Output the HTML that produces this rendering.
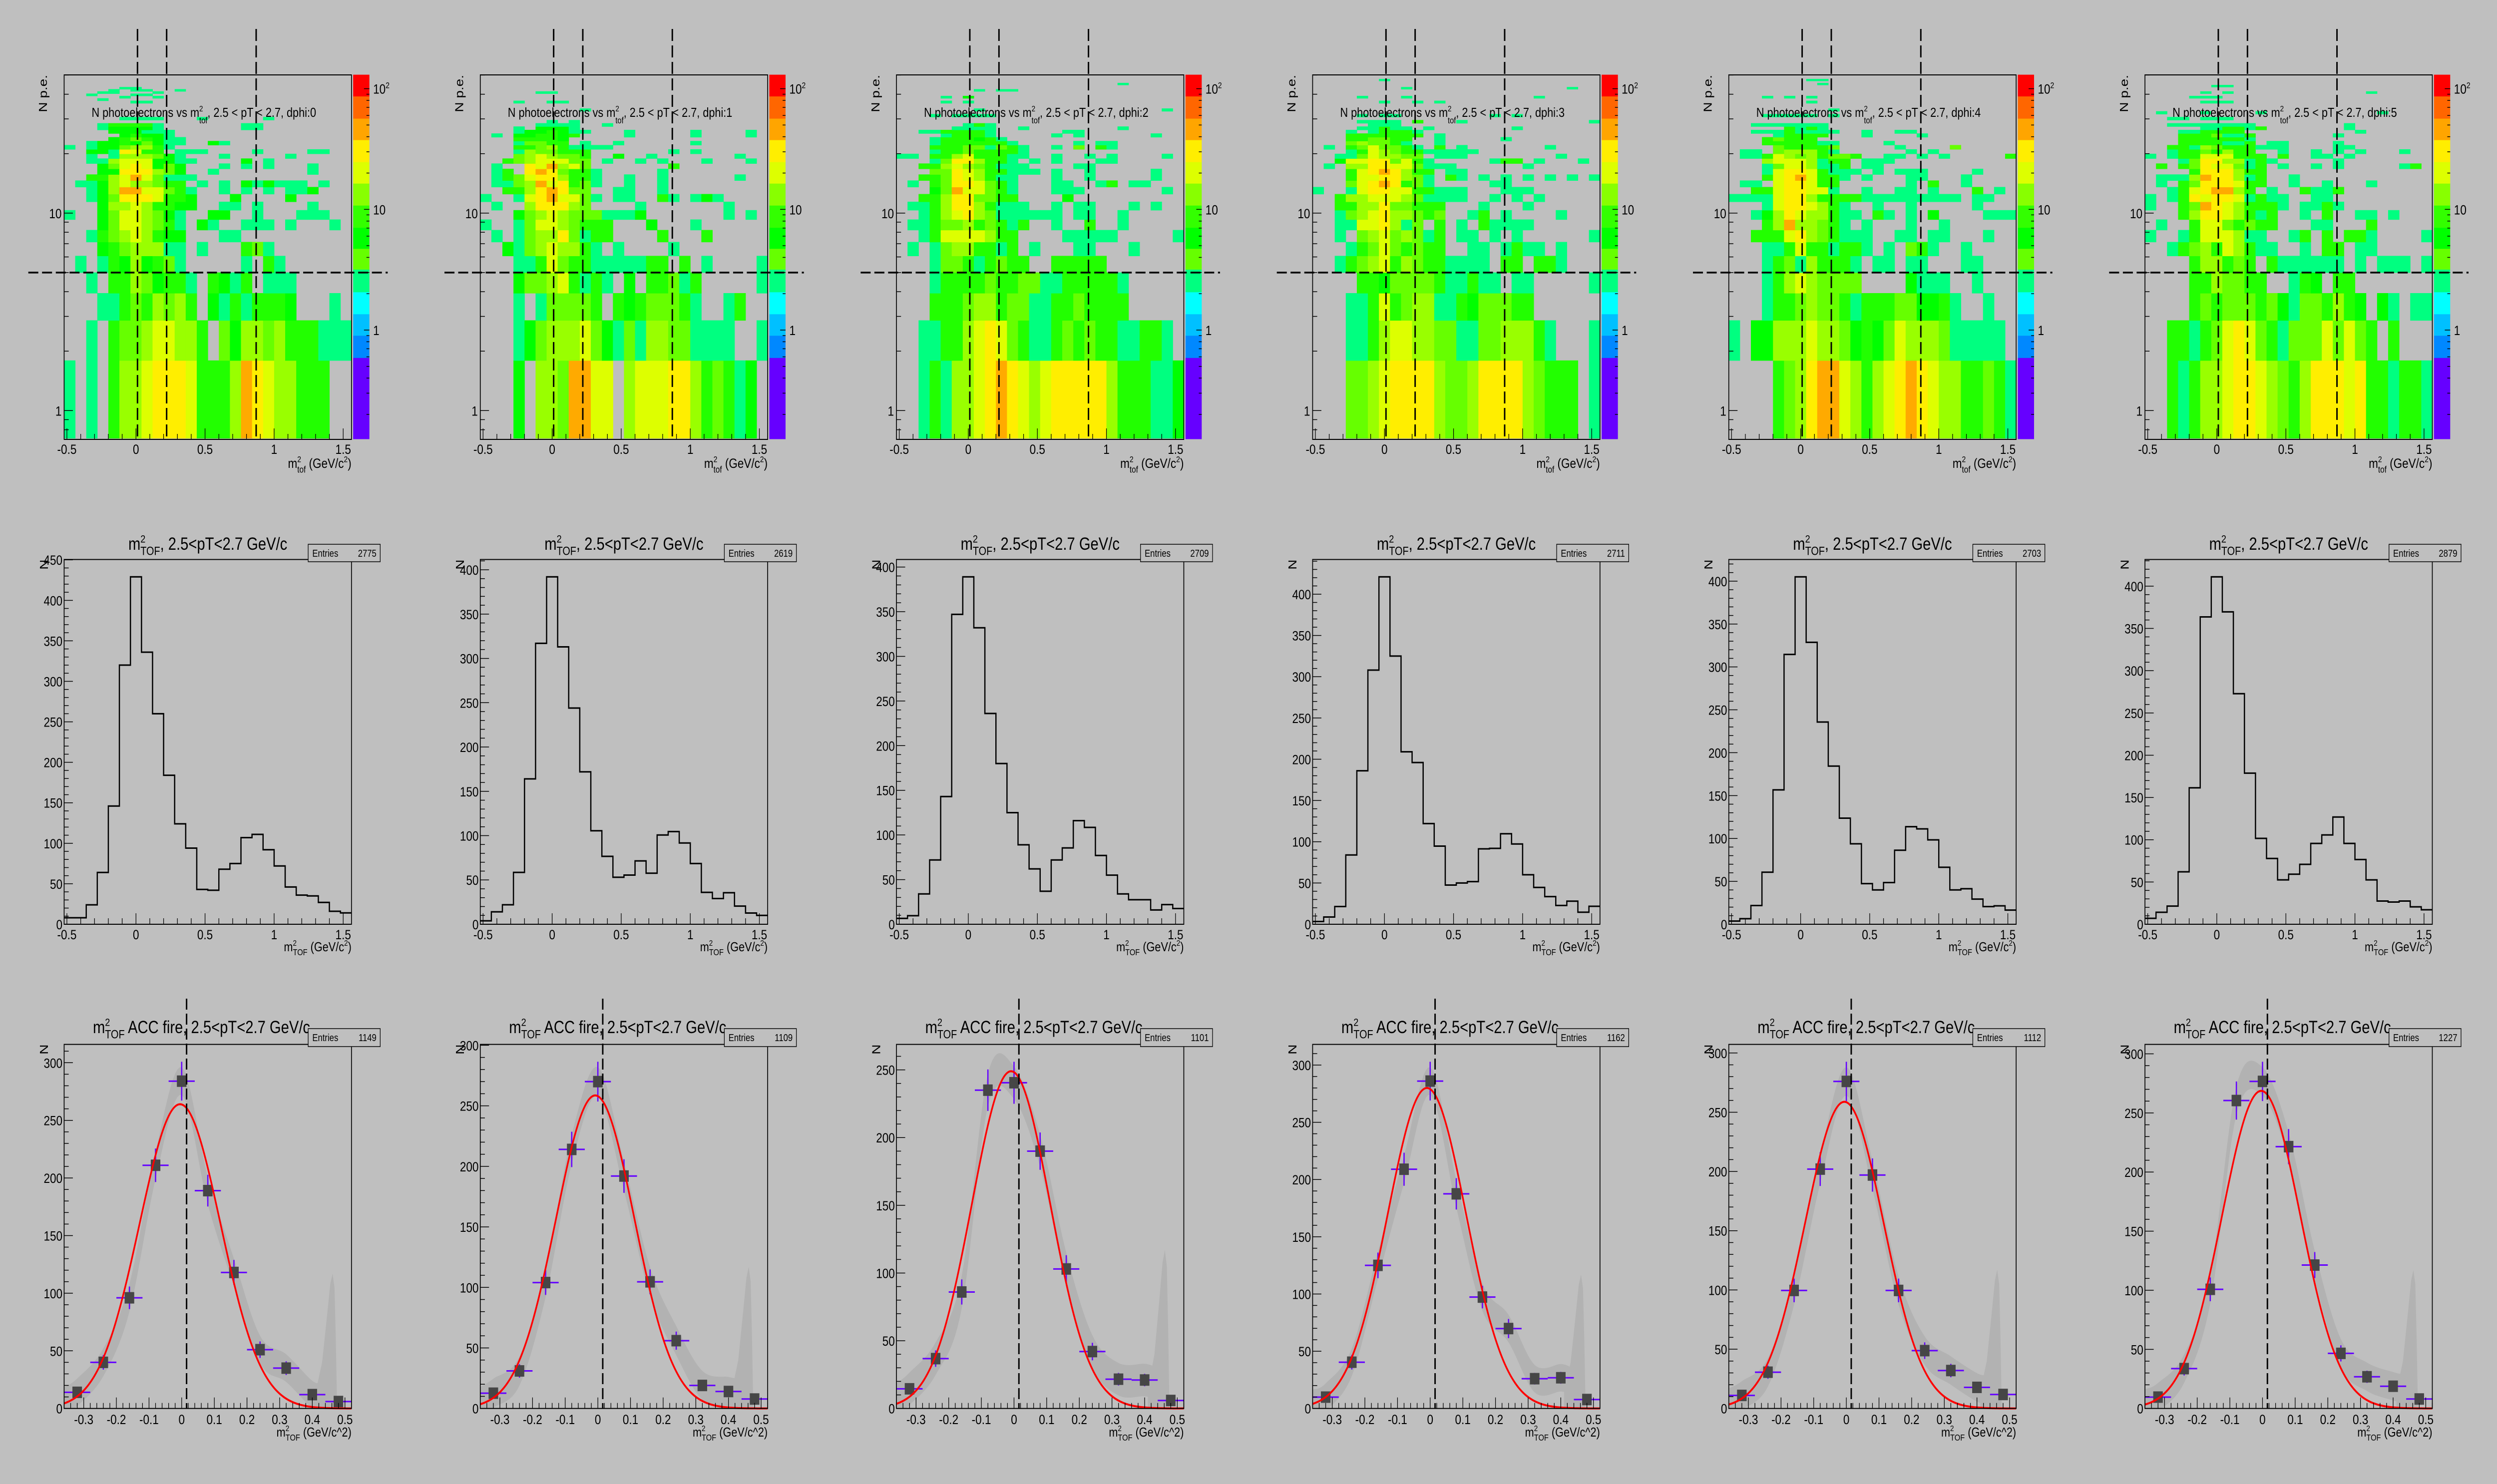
<!DOCTYPE html>
<html><head><meta charset="utf-8"><title>m2 TOF panels</title>
<meta name="viewport" content="width=5996">
<style>
html,body{margin:0;padding:0;background:#bfbfbf;width:100%;height:100%;overflow:hidden;}
svg{display:block;font-family:"Liberation Sans",Arial,sans-serif;width:100vw;height:100vh;overflow:hidden;}
</style></head>
<body>
<svg id="canvas" viewBox="0 0 5996 2972" preserveAspectRatio="none" xmlns="http://www.w3.org/2000/svg">
<rect x="0" y="0" width="5996" height="2972" fill="#bfbfbf"/>
</svg>
<script>
// ---------------- DATA ----------------
const dphiValues = [0,1,2,3,4,5];
const xBinStart = -0.52;
const xBinWidth = 0.08;
const yBinStart = 0.725;
const yBinWidth = 1.07;
const hmXTicks = [-0.5,0,0.5,1,1.5];
const hmXTickLabels = ['-0.5','0','0.5','1','1.5'];
const hmYTicks = [1,10];
const hmYTickLabels = ['1','10'];
const cutXValues = [0.011,0.222,0.87];
const cutYValue = 5.0;

const hm0 = [
"0|10103556777633358765533300","1|00103445665530425545333111","2|00011343545302131333200010",
"3|00103354233103213011100000","4|01013252341000001031000000","5|00023455511010003410000000",
"6|00134565322000110000000000","7|00024665431021001110100010","8|10024665421002200100011100",
"9|00025565332200110100001000","10|00124777633200020000200000","11|00125886643100101010112000",
"12|01125655433010102121110100","13|00335686411100000000000000",
"14|3:2 4:2 5:7 6:7 7:7 8:5 9:4 10:2 13:1 22:1","15|3:2 4:4 5:6 6:7 7:6 8:2 9:4 10:2 14:1 16:1 18:1 22:1",
"16|2:1 3:1 4:5 5:6 6:6 7:6 8:2 9:2 10:1 11:1 16:2 18:1","17|2:1 4:1 5:5 6:5 7:5 8:4 9:2 10:1 14:1 20:1",
"18|2:2 3:2 4:1 5:7 6:6 7:3 8:3 10:1 11:1 12:1 17:1 22:1 23:1","19|0:1 2:1 3:2 4:2 5:4 6:5 7:5 8:3 9:1",
"20|2:1 3:2 4:2 5:3 6:2 7:4 8:2 9:1 10:1 13:2 14:1","21|4:2 5:3 6:4 7:3 8:2 9:1 10:1",
"22|5:2 6:3 7:2 8:2 9:1","23|4:2 5:2 6:2 7:1 8:1 9:1","24|3:1 4:2 5:2 6:2 7:2 8:1 16:1 17:1",
"25|3:1 4:3 5:3 6:3 7:3 8:1 16:1 17:1","27|5:1 6:1 7:1 8:1 12:1 18:1",
"33|6:1 7:1","34|3:1","35|5:1 8:1","36|2:1 6:1 7:1","37|3:1 4:1 8:1","38|4:1 6:1 7:1 10:1","39|5:1 6:1"
];
const hm1 = [
"0|00020554886605666775343120","1|00012455564214155441111001","2|00010144443032344431001300",
"3|00024456313102033413000001","4|00011364331111133030100001","5|00214565531010000100000000",
"6|01014557413300003000300000","7|10014665433300020001000000","8|00024565444111200000001010",
"9|01005777540000100000001000","10|10016786641011003101210000","11|00335787440011001000000000",
"12|01145867341001001000000000","13|01346775331001001000000100",
"14|1:1 2:3 4:7 5:8 6:7 7:4 8:3 9:3 10:1 16:1","15|1:1 4:7 5:6 6:8 7:5 8:6 9:4 17:3",
"16|2:3 3:4 4:5 5:6 6:6 7:6 8:4 9:4 11:1 14:1 16:1 20:1 24:1","17|3:4 4:5 5:6 6:5 7:4 8:4 9:3 12:2 15:1 23:1",
"18|3:1 4:5 5:4 6:4 7:3 8:3 9:3 17:1 19:1","19|3:3 4:3 5:4 6:5 7:3 8:1 9:1 10:1 11:1",
"20|3:1 4:4 5:4 6:3 7:3 9:1 12:1 19:1","21|3:3 4:3 5:3 6:3 7:2",
"22|1:1 3:2 4:2 5:3 6:3 7:2 8:3 13:1 19:1 24:1","23|3:1 4:2 5:2 6:3 7:2 8:1 9:1 13:1 19:1 24:1",
"24|3:1 5:2 6:2 7:2 8:1","25|5:1 6:1 7:1 8:1 11:1","26|6:1 8:1","30|9:1","33|3:1 6:1 7:1","37|5:1 6:1"
];
const hm2 = [
"0|00131556787656777775333112","1|00113356764311343433113310","2|00033345534411334333300000",
"3|00013333433441133333100000","4|00014431343300333330000000","5|01014553313010001100010000",
"6|00136666533000011111000001","7|01134453431300100300100000","8|00135675411111101100100000",
"9|1:1 2:1 3:3 4:5 5:7 6:7 7:5 8:3 9:1 10:1 11:1 14:1 16:1 17:1 21:1 23:1",
"10|2:3 3:3 4:5 5:7 6:7 7:4 8:4 9:3 10:3 15:2",
"11|3:2 4:4 5:8 6:6 7:6 8:4 9:3 10:1 14:1 15:1 16:1 24:1",
"12|1:1 3:3 4:4 5:7 6:7 7:6 8:4 9:3 10:1 14:1 15:1 18:1 19:3 21:1 22:1",
"13|2:3 3:3 4:4 5:7 6:6 7:5 8:3 9:1 10:1 14:1 17:1 23:1",
"14|3:4 4:4 5:7 6:6 7:5 8:3 9:3 10:1 11:1 12:1 14:1 17:1 23:1",
"15|2:3 3:3 4:5 5:6 6:5 7:4 8:3 9:1 10:1 11:1 16:1 17:1",
"16|3:1 4:4 5:7 6:7 7:5 8:3 9:3 10:1 12:1 14:1 18:1 19:1",
"17|0:1 1:1 3:3 4:3 5:5 6:6 7:3 8:3 9:3 10:1 11:1 14:1 17:1 19:1 24:1",
"18|3:1 4:3 5:3 6:4 7:3 8:3 9:3 10:3 11:1",
"19|3:3 4:3 5:3 6:4 7:4 8:1 9:4 10:3 11:1 14:1 16:4 18:3 19:1",
"20|3:1 4:3 5:3 6:3 7:3 8:3 9:3 10:1 16:1 18:1 19:1","21|3:1 4:3 5:3 6:3 7:2 8:3 9:1",
"22|4:1 5:3 6:3 7:3 8:1 14:1 16:1 23:1","23|2:1 3:1 4:3 5:3 6:3 7:3 8:1 15:1 16:1",
"24|5:1 6:1 7:1 8:1 11:1 20:1","25|6:1 7:3 8:1","28|3:1 5:1 6:1 7:1 8:1","30|7:1 24:1",
"33|4:1 6:1","35|4:1 6:2","38|7:1 9:1 10:1","41|20:1"
];
const hm3 = [
"0|00044567777544577775433301","1|00011356655441144555310001","2|00011363455113244433000000",
"3|00003324444311311011000001","4|00134563543311110330331000","5|00013464343300110131101000",
"6|00104564541301101010000001","7|00116675140301031111000000","8|00145675543400130100001000",
"9|2:3 3:3 4:5 5:5 6:7 7:4 8:4 9:3 10:3 11:3 15:1 19:1",
"10|2:3 3:5 4:5 5:6 6:6 7:6 8:5 9:4 10:1 11:1 12:1 13:1 16:1 18:1 20:1",
"11|0:1 3:1 4:6 5:7 6:7 7:6 8:6 9:3 10:3 11:1 12:1 13:1 17:1 18:1 19:1",
"12|3:4 4:6 5:7 6:8 7:7 8:3 9:4 10:1 16:1 17:1",
"13|3:3 4:6 5:6 6:7 7:7 8:5 9:4 10:1 12:3 13:1 15:1 17:1 19:1 21:1 23:1 25:1",
"14|3:3 4:6 5:7 6:8 7:7 8:5 9:3 10:3 12:1 13:1",
"15|1:1 3:5 4:5 5:7 6:7 7:6 8:6 9:4 10:1 11:1 12:1 19:1",
"16|2:2 3:6 4:6 5:7 6:7 7:4 8:6 9:3 10:1 16:1 17:3 18:3 20:1 24:1",
"17|2:1 3:1 4:4 5:6 6:5 7:5 8:4 9:4 11:1 12:1 13:1 22:1",
"18|3:1 4:3 5:6 6:5 7:4 8:3 9:3 10:1 11:1 12:1 13:1 14:1",
"19|1:1 3:3 4:4 5:6 6:4 7:4 8:3 9:1 11:3 13:1 21:1",
"20|3:4 4:5 5:4 6:4 7:3 8:1 11:1","21|3:3 4:3 5:4 6:4 7:3 8:3 11:1 17:1",
"22|3:3 4:3 5:3 6:3 7:3 8:3 9:3 11:1","23|3:1 5:1 6:3 7:3 8:3 9:1",
"24|4:1 5:1 6:3 7:1 8:1 10:1 18:1","25|5:1 6:1 7:1","26|4:1 5:1 6:1 7:1 9:3 13:1 25:1",
"28|4:1 6:1 7:1 16:1 18:1","33|6:1 9:1 11:1","35|4:1 8:1 20:1","39|8:1 23:1","43|6:1"
];
const hm4 = [
"0|00003457886535678765533431","1|10225556554232465554111110","2|00013345443133344223100100",
"3|00013565444400002111001000",
"4|3:1 4:3 5:4 6:1 7:5 8:3 9:3 10:3 11:1 13:1 14:1 16:1 17:1 21:1 22:1",
"5|3:1 4:1 5:3 6:6 7:3 8:3 9:1 10:3 11:3 12:1 14:1 16:4 17:3 18:1 21:1",
"6|2:3 3:3 4:3 5:6 6:7 7:5 8:4 9:3 10:1 11:1 12:1 15:1 16:1 18:1 19:1 23:1",
"7|3:3 4:5 5:8 6:5 7:5 8:4 9:3 10:1 12:1 16:1 19:1",
"8|2:1 3:2 4:5 5:7 6:6 7:5 8:5 9:3 10:1 11:1 13:3 14:1 16:1 18:2 23:1 24:1 25:1",
"9|3:1 4:6 5:7 6:7 7:6 8:5 9:3 10:1 13:1 16:1 22:1",
"10|0:1 1:1 2:1 3:1 4:6 5:7 6:7 7:5 8:3 9:3 10:3 11:3 12:1 13:1 14:1 15:1 16:1 17:1 18:1 19:1 20:1 22:1 23:1",
"11|2:3 3:3 4:6 5:7 6:7 7:6 8:6 9:1 12:1 15:1 16:1 18:1 22:3 24:1",
"12|1:1 2:1 4:6 5:7 6:7 7:6 8:3 9:3 16:1 18:3 21:1",
"13|3:3 4:6 5:7 6:8 7:6 8:3 9:3 10:1 12:1 16:1 17:1 21:1",
"14|3:1 4:6 5:7 6:7 7:6 8:3 9:1 10:1 11:1 13:1 15:1 16:1 17:1 22:1",
"15|3:1 4:4 5:6 6:6 7:5 8:1 9:1 10:3 12:1 13:1",
"16|3:5 4:6 5:6 6:6 7:5 8:1 9:3 10:3 12:1 13:1 14:1",
"17|1:1 2:1 3:3 4:6 5:5 6:4 7:5 8:3 9:4 10:4 11:3 14:1 15:1 17:1 19:1 25:3",
"18|1:1 2:1 4:4 5:5 6:5 7:5 8:3 9:1 16:1 18:1","19|4:4 5:3 6:3 7:3 8:3 9:4 15:1 20:4",
"20|3:3 4:3 5:3 6:3 7:3 8:1 9:1 14:1","21|3:3 4:4 5:3 6:3 7:3","22|4:1 5:3 6:3 7:3 8:3 12:1 17:1",
"23|2:1 3:1 4:1 5:3 6:1 7:1 8:1 9:1 12:1 15:1 16:1","24|5:3 6:1 7:3 8:1",
"25|2:1 3:1 4:1 5:1 6:1 7:1 8:1","28|3:1 4:1 5:1 6:1 7:1 9:1","30|9:1","33|7:1","35|3:1 5:1 7:1",
"41|8:1","43|7:1 8:1"
];
const hm5 = [
"0|00313556776543577767331331","1|00331346764314446464303000","2|00003434443421443532021011",
"3|00003354433001320330000000","4|00003553430311111101011101","5|00134536531100103301100000",
"6|10013666511001303033100001",
"7|1:1 4:3 5:6 6:6 7:4 8:3 9:4 10:3 11:3 15:1 16:1 20:3",
"8|3:3 4:5 5:7 6:7 7:6 8:5 9:3 10:1 11:3 14:1 16:3 19:1 20:1 22:1",
"9|0:1 3:3 4:4 5:8 6:7 7:6 8:5 9:3 10:3 11:3 12:1 14:1 15:1 16:3 17:1",
"10|0:1 2:1 3:3 4:7 5:6 6:7 7:7 8:6 9:1 10:3 11:1 12:1 15:1 16:1",
"11|2:1 3:3 4:6 5:7 6:8 7:8 8:5 9:3 11:1 14:3 15:1 16:1 17:3",
"12|1:1 3:3 4:4 5:7 6:7 7:7 8:6 9:3 10:3 13:1 16:1 20:1",
"13|1:1 2:1 3:1 4:5 5:8 6:7 7:7 8:5 9:1 10:3 13:1",
"14|4:3 5:7 6:7 7:7 8:5 9:3 10:3",
"15|1:3 3:3 4:4 5:7 6:6 7:6 8:4 9:1 10:3 12:1 15:1 17:1 23:1 24:3",
"16|3:1 4:4 5:7 6:7 7:5 8:5 9:1 10:3 11:1 17:1",
"17|0:1 2:1 3:3 4:3 5:6 6:6 7:6 8:3 9:3 10:3 12:3 15:1 16:1 18:1",
"18|2:1 3:3 4:3 5:4 6:3 7:5 8:3 9:3 12:1 15:1 17:1 19:1 23:1",
"19|2:3 3:3 4:1 5:5 6:4 7:3 8:3 9:3 10:1 11:1 12:1 17:1 18:1",
"20|3:3 4:3 5:3 6:3 7:1 8:1 9:3 11:1 12:1 17:1","21|3:3 4:3 5:3 6:3 7:3 8:3 9:1",
"22|3:3 4:3 5:3 6:4 7:1 8:1 9:3 17:1","23|3:1 4:1 5:3 6:3 7:3 8:3 19:1",
"24|5:1 6:1 7:3 8:3 9:1 10:3 18:1","25|2:1 3:1 4:1 5:1 6:1 7:1 8:1 9:1 18:1",
"27|2:1 3:1 5:1 6:1 7:1","29|1:1 5:1 10:1 21:1","33|5:1 6:1 7:1","35|4:1 5:1 6:1","37|5:1 7:1 20:1","40|6:1 7:1"
];
const heatmaps = [hm0,hm1,hm2,hm3,hm4,hm5];
const cellColors = ['none','#00ff80','#00ff00','#22ff00','#66ff00','#99ff00','#ddff00','#ffee00','#ffaa00','#ff6600'];
const paletteEdges = [879,716.4,671.9,628.8,584.8,539.4,497.8,455.7,411.2,367.2,324.1,280.1,237.1,192.6,149.6];
const paletteColors = ['#6600ff','#0088ff','#00c0ff','#00ffff','#00ff80','#66ff00','#00ff00','#33ff00','#88ff00','#ddff00','#ffee00','#ffa500','#ff6600','#ff0000'];

const histEntries = [2775,2619,2709,2711,2703,2879];
const hist0 = [8,8,24,64,146,320,429,336,260,184,124,94,43,42,68,75,107,111,92,72,46,36,35,27,16,14];
const hist1 = [3.9,14,22,58.5,164,317,392,313,244,172,105.5,76.6,53,55.5,71.5,57.6,100.7,104.6,91.7,68.5,36,29,35.6,20.5,12.7,10];
const hist2 = [6.6,9.6,34,72,143,347,389,332,236,180,125,89,62,37,72,85.5,116,108.5,77,55,34,27.5,27.5,16,22,17.6];
const hist3 = [3.3,8.8,21.5,84,186,308,421,325,209,196,122,94.7,47.5,50,51.7,91.4,92,109.7,97.3,60,44.6,33.5,22.8,28,14.6,21.8];
const hist4 = [3.7,6.5,21.8,60.7,156.7,314.6,405,328.7,235.8,184.4,123.7,93.8,47.4,40,48.6,86.3,113.7,111.2,98.4,66.4,40,41.4,29.3,20.6,21.5,16.5];
const hist5 = [7,14.2,21.5,62,161.4,363.6,411,369.6,272.8,178.8,101.6,77.8,52.5,59.2,70.9,95.6,105.7,126.9,95.6,76.6,52.5,27.5,26.3,27.5,20.6,17.1];
const histograms = [hist0,hist1,hist2,hist3,hist4,hist5];

const fitEntries = [1149,1109,1101,1162,1112,1227];
const fitBinCenters = [-0.32,-0.24,-0.16,-0.08,0,0.08,0.16,0.24,0.32,0.40,0.48];
const fit0 = [14,40,96,211,284,189,118,51,35,12,6];
const fit1 = [12.6,31,104,214,270,192,104.6,56,19,14,7.8];
const fit2 = [14.5,36.8,86,235,240.5,190,103,42,21.6,21,5.9];
const fit3 = [9.9,40.4,125,209,286,187.5,97.3,69.8,26,26.8,7.8];
const fit4 = [11,30.6,99.6,202,276,197,99.6,48.8,32,17.8,11.8];
const fit5 = [9.6,33.7,100.8,260.5,276.7,221.5,121.3,46.6,26.8,18.8,8];
const fitData = [fit0,fit1,fit2,fit3,fit4,fit5];
const gaussAmp = [264,258.6,249,280,258.8,268.7];
const gaussMean = [-0.005,-0.008,-0.009,-0.01,-0.006,-0.004];
const gaussSigma = [0.124,0.12,0.12,0.12,0.12,0.12];
const spikeX = [0.41,0.43,0.445,0.455,0.462,0.468,0.472,0.476];
const spikeY = [14,40,80,108,117,105,60,0];
const fitCutX = 0.015;
const fitXTicks = [-0.3,-0.2,-0.1,0,0.1,0.2,0.3,0.4,0.5];
const fitXTickLabels = ['-0.3','-0.2','-0.1','0','0.1','0.2','0.3','0.4','0.5'];
const histXTicks = [-0.5,0,0.5,1,1.5];
const histXTickLabels = ['-0.5','0','0.5','1','1.5'];

// ---------------- HELPERS ----------------
const NS = "http://www.w3.org/2000/svg";
const svg = document.getElementById('canvas');
const COL_W = 999.33;
function mk(tag, attrs, parent){
  const e = document.createElementNS(NS, tag);
  for (const k in attrs) e.setAttribute(k, attrs[k]);
  (parent || svg).appendChild(e);
  return e;
}
function rich(parent, x, y, fs, parts, anchor, name, subOff){
  const t = mk('text', {x:x, y:y, 'font-size':fs, 'text-anchor':anchor||'start', fill:'#000'}, parent);
  
  
  let prevSup = false;
  let cur = 0;
  for (const part of parts){
    const ts = mk('tspan', {}, t);
    let target = 0;
    if (part[1] === 'sup'){ ts.setAttribute('font-size', fs*0.62); target = -fs*0.42; }
    else if (part[1] === 'sub'){ ts.setAttribute('font-size', fs*0.68); target = fs*(subOff||0.3); if (prevSup) ts.setAttribute('dx', -fs*0.62*0.556); }
    ts.setAttribute('dy', target - cur);
    cur = target;
    prevSup = part[1] === 'sup';
    ts.textContent = part[0];
  }
  return t;
}
function line(parent, x1, y1, x2, y2, w, name, dash){
  const l = mk('line', {x1:x1, y1:y1, x2:x2, y2:y2, stroke:'#000', 'stroke-width':w}, parent);
  if (dash) l.setAttribute('stroke-dasharray', dash);
  
  
  return l;
}
function parseRow(str){
  const [k, body] = str.split('|');
  const cells = [];
  if (body.indexOf(':') >= 0){
    for (const tok of body.trim().split(/\s+/)){ const [c, v] = tok.split(':'); cells.push([+c, +v]); }
  } else {
    for (let c = 0; c < body.length; c++) cells.push([c, +body[c]]);
  }
  return {k:+k, cells:cells};
}
function catmull(px, py, steps){
  const out = [];
  for (let i = 0; i < px.length-1; i++){
    const p0=[px[Math.max(i-1,0)],py[Math.max(i-1,0)]], p1=[px[i],py[i]], p2=[px[i+1],py[i+1]], p3=[px[Math.min(i+2,px.length-1)],py[Math.min(i+2,px.length-1)]];
    for (let s = 0; s < steps; s++){
      const t = s/steps, t2=t*t, t3=t2*t;
      const f = (a,b,c,d)=>0.5*((2*b)+(-a+c)*t+(2*a-5*b+4*c-d)*t2+(-a+3*b-3*c+d)*t3);
      out.push([f(p0[0],p1[0],p2[0],p3[0]), f(p0[1],p1[1],p2[1],p3[1])]);
    }
  }
  out.push([px[px.length-1], py[py.length-1]]);
  return out;
}

// ---------------- ROW 1: heatmaps ----------------
function drawHeatmap(p){
  const ox = p*COL_W;
  const X = x => ox + 154 + (x + 0.52)/2.08*690;
  const Y = v => 822.3 - 395.5*Math.log10(v);
  const g = mk('g', {});
  
  
  for (const rs of heatmaps[p]){
    const r = parseRow(rs);
    let y0 = Y(yBinStart + yBinWidth*r.k), y1 = Y(yBinStart + yBinWidth*(r.k+1));
    if (y0 > 880) y0 = 880;
    if (y1 < 150) y1 = 150;
    if (y0 <= 150) continue;
    for (const [c, lev] of r.cells){
      if (!lev) continue;
      const x0 = X(xBinStart + xBinWidth*c), x1 = X(xBinStart + xBinWidth*(c+1));
      const cell = mk('rect', {x:x0, y:y1, width:x1-x0+0.6, height:y0-y1+0.6, fill:cellColors[lev]}, g);
      
      
    }
  }
  const fr = mk('rect', {x:ox+154, y:150, width:690, height:730, fill:'none', stroke:'#000', 'stroke-width':2}, g);
  
  
  for (let i = -5; i <= 15; i++){
    const xv = i/10, big = (i % 5 === 0);
    line(g, X(xv), 880, X(xv), 880 - (big ? 22 : 11), 1.5, 'x-tick');
  }
  hmXTicks.forEach((xv, i) => {
    const t = mk('text', {x:X(xv), y:909, 'font-size':27, 'text-anchor':'middle'}, g);
    
    
    t.textContent = hmXTickLabels[i];
  });
  const minorVals = [0.8,0.9,2,3,4,5,6,7,8,9,20,30,40,50];
  for (const v of minorVals) line(g, ox+154, Y(v), ox+165, Y(v), 1.5, 'y-minor-tick');
  hmYTicks.forEach((v, i) => {
    line(g, ox+154, Y(v), ox+175, Y(v), 1.5, 'y-major-tick');
    const t = mk('text', {x:ox+148, y:Y(v)+10, 'font-size':27, 'text-anchor':'end'}, g);
    
    
    t.textContent = hmYTickLabels[i];
  });
  rich(g, ox+220, 234, 26, [['N photoelectrons vs m','n'],['2','sup'],['tof','sub'],[', 2.5 < pT < 2.7, dphi:' + dphiValues[p],'n']], 'start', 'panel-title', 0.5);
  rich(g, ox+844, 937, 27, [['m','n'],['2','sup'],['tof','sub'],[' (GeV/c','n'],['2','sup'],[')','n']], 'end', 'x-axis-title', 0.35);
  const yt = mk('text', {x:0, y:0, 'font-size':28, 'text-anchor':'end', transform:'translate(' + (ox+113) + ',150) rotate(-90)'}, g);
  
  
  yt.textContent = 'N p.e.';
  const cb = mk('g', {}, g);
  
  
  for (let i = 0; i < paletteColors.length; i++){
    const b = mk('rect', {x:ox+848, y:paletteEdges[i+1], width:39, height:paletteEdges[i]-paletteEdges[i+1]+0.5, fill:paletteColors[i]}, cb);
    
    
  }
  const YC = v => 661 - 241.7*Math.log10(v);
  const cbMinor = [0.2,0.3,0.4,0.5,0.6,0.7,0.8,0.9,2,3,4,5,6,7,8,9,20,30,40,50,60,70,80,90];
  for (const v of cbMinor) line(cb, ox+887, YC(v), ox+880, YC(v), 1.5, 'color-scale-minor-tick');
  for (const v of [1,10,100]) line(cb, ox+887, YC(v), ox+874, YC(v), 1.5, 'color-scale-major-tick');
  rich(cb, ox+896, YC(100)+10, 27, [['10','n'],['2','sup']], 'start', 'color-scale-label');
  rich(cb, ox+896, YC(10)+10, 27, [['10','n']], 'start', 'color-scale-label');
  rich(cb, ox+896, YC(1)+10, 27, [['1','n']], 'start', 'color-scale-label');
  cutXValues.forEach(xv => line(g, X(xv), 58, X(xv), 880, 3.5, 'vertical-cut-line', '24 9'));
  line(g, ox+68, Y(cutYValue), ox+931, Y(cutYValue), 3.5, 'horizontal-cut-line', '24 9');
}

// ---------------- ROW 2: histograms ----------------
function drawHist(p){
  const ox = p*COL_W;
  const h = histograms[p];
  const ymax = 1.05*Math.max(...h);
  const top = 1120.5, bot = 1851;
  const X = x => ox + 154 + (x + 0.52)/2.08*690;
  const Y = v => bot - v/ymax*(bot-top);
  const g = mk('g', {});
  
  
  rich(g, ox+499, 1101, 35, [['m','n'],['2','sup'],['TOF','sub'],[', 2.5<pT<2.7 GeV/c','n']], 'middle', 'panel-title', 0.3);
  let d = 'M' + X(xBinStart) + ' ' + Y(h[0]);
  for (let i = 0; i < h.length; i++){
    if (i > 0) d += ' V' + Y(h[i]);
    d += ' H' + X(xBinStart + xBinWidth*(i+1));
  }
  const path = mk('path', {d:d, fill:'none', stroke:'#000', 'stroke-width':3}, g);
  
  
  const fr = mk('rect', {x:ox+154, y:top, width:690, height:bot-top, fill:'none', stroke:'#000', 'stroke-width':2}, g);
  
  
  for (let i = -5; i <= 15; i++){
    const xv = i/10, big = (i % 5 === 0);
    line(g, X(xv), bot, X(xv), bot - (big ? 22 : 12), 1.5, 'x-tick');
  }
  histXTicks.forEach((xv, i) => {
    const t = mk('text', {x:X(xv), y:1881, 'font-size':27, 'text-anchor':'middle'}, g);
    
    
    t.textContent = histXTickLabels[i];
  });
  for (let v = 0; v <= ymax; v += 10){
    const big = (v % 50 === 0);
    line(g, ox+154, Y(v), ox+154 + (big ? 21 : 11), Y(v), 1.5, 'y-tick');
    if (big){
      const t = mk('text', {x:ox+150, y:Y(v)+10, 'font-size':27, 'text-anchor':'end'}, g);
      
      
      t.textContent = String(v);
    }
  }
  rich(g, ox+844, 1905, 26, [['m','n'],['2','sup'],['TOF','sub'],[' (GeV/c','n'],['2','sup'],[')','n']], 'end', 'x-axis-title', 0.3);
  const yt = mk('text', {x:0, y:0, 'font-size':28, 'text-anchor':'end', transform:'translate(' + (ox+115) + ',' + top + ') rotate(-90)'}, g);
  
  
  yt.textContent = 'N';
  const sb = mk('g', {}, g);
  
  
  const r = mk('rect', {x:ox+740, y:1090, width:173, height:35, fill:'#bfbfbf', stroke:'#000', 'stroke-width':1.5}, sb);
  
  
  const t1 = mk('text', {x:ox+750, y:1115, 'font-size':20}, sb);
  
  
  t1.textContent = 'Entries';
  const t2 = mk('text', {x:ox+904, y:1115, 'font-size':20, 'text-anchor':'end'}, sb);
  
  
  t2.textContent = String(histEntries[p]);
}

// ---------------- ROW 3: fits ----------------
function drawFit(p){
  const ox = p*COL_W;
  const dta = fitData[p];
  const ymax = 1.05*Math.max(...dta.map(v => v + Math.sqrt(v)));
  const top = 2091.6, bot = 2820.7;
  const xmin = -0.36, xmax = 0.52;
  const X = x => ox + 154 + (x - xmin)/(xmax - xmin)*690;
  const Y = v => bot - v/ymax*(bot-top);
  const g = mk('g', {});
  
  
  rich(g, ox+223, 2069, 35, [['m','n'],['2','sup'],['TOF','sub'],[' ACC fire, 2.5<pT<2.7 GeV/c','n']], 'start', 'panel-title', 0.3);
  const bx = [xmin].concat(fitBinCenters.slice(0,10), [0.43]);
  const by = [dta[0]*0.45].concat(dta.slice(0,10), [dta[9]*0.9]);
  const pts = catmull(bx, by, 12);
  let up = '', lo = '';
  pts.forEach(pt => { up += (up ? ' L' : 'M') + X(pt[0]) + ' ' + Y(Math.max(pt[1] + 12, 0)); });
  for (let i = pts.length-1; i >= 0; i--) lo += ' L' + X(pts[i][0]) + ' ' + Y(Math.max(pts[i][1] - 12, 0));
  const band = mk('path', {d:up + lo + ' Z', fill:'#b2b2b2'}, g);
  
  
  let sd = 'M' + X(spikeX[0]) + ' ' + Y(0);
  spikeX.forEach((xv, i) => { sd += ' L' + X(xv) + ' ' + Y(spikeY[i]); });
  sd += ' Z';
  const spike = mk('path', {d:sd, fill:'#b2b2b2'}, g);
  
  
  fitBinCenters.forEach((xv, i) => {
    const v = dta[i], e = Math.sqrt(v);
    const pg = mk('g', {}, g);
    
    
    const xl = Math.max(X(xv - 0.04), ox+154), xr = Math.min(X(xv + 0.04), ox+844);
    const eh = mk('line', {x1:xl, y1:Y(v), x2:xr, y2:Y(v), stroke:'#6400ff', 'stroke-width':3}, pg);
    
    
    const ev = mk('line', {x1:X(xv), y1:Y(v+e), x2:X(xv), y2:Y(Math.max(v-e,0)), stroke:'#6400ff', 'stroke-width':3}, pg);
    
    
    const m = mk('rect', {x:X(xv)-11.5, y:Y(v)-11.5, width:23, height:23, fill:'#464646'}, pg);
    
    
  });
  let gd = '';
  for (let i = 0; i <= 220; i++){
    const xv = xmin + (xmax - xmin)*i/220;
    const v = gaussAmp[p]*Math.exp(-Math.pow(xv - gaussMean[p], 2)/(2*gaussSigma[p]*gaussSigma[p]));
    gd += (i ? ' L' : 'M') + X(xv) + ' ' + Y(v);
  }
  const gc = mk('path', {d:gd, fill:'none', stroke:'#ff0000', 'stroke-width':4}, g);
  
  
  const fr = mk('rect', {x:ox+154, y:top, width:690, height:bot-top, fill:'none', stroke:'#000', 'stroke-width':2}, g);
  
  
  for (let i = -18; i <= 26; i++){
    const xv = i/50, big = (i % 5 === 0);
    if (xv < xmin || xv > xmax) continue;
    line(g, X(xv), bot, X(xv), bot - (big ? 22 : 11), 1.5, 'x-tick');
  }
  fitXTicks.forEach((xv, i) => {
    const t = mk('text', {x:X(xv), y:2852, 'font-size':27, 'text-anchor':'middle'}, g);
    
    
    t.textContent = fitXTickLabels[i];
  });
  for (let v = 0; v <= ymax; v += 10){
    const big = (v % 50 === 0);
    line(g, ox+154, Y(v), ox+154 + (big ? 21 : 11), Y(v), 1.5, 'y-tick');
    if (big){
      const t = mk('text', {x:ox+150, y:Y(v)+10, 'font-size':27, 'text-anchor':'end'}, g);
      
      
      t.textContent = String(v);
    }
  }
  rich(g, ox+844, 2877, 26, [['m','n'],['2','sup'],['TOF','sub'],[' (GeV/c^2)','n']], 'end', 'x-axis-title', 0.3);
  const yt = mk('text', {x:0, y:0, 'font-size':28, 'text-anchor':'end', transform:'translate(' + (ox+115) + ',' + top + ') rotate(-90)'}, g);
  
  
  yt.textContent = 'N';
  line(g, X(fitCutX), 2000, X(fitCutX), bot, 3.5, 'vertical-cut-line', '22 8');
  const sb = mk('g', {}, g);
  
  
  const r = mk('rect', {x:ox+740, y:2060, width:173, height:36, fill:'#bfbfbf', stroke:'#000', 'stroke-width':1.5}, sb);
  
  
  const t1 = mk('text', {x:ox+750, y:2085, 'font-size':20}, sb);
  
  
  t1.textContent = 'Entries';
  const t2 = mk('text', {x:ox+904, y:2085, 'font-size':20, 'text-anchor':'end'}, sb);
  
  
  t2.textContent = String(fitEntries[p]);
}

for (let p = 0; p < 6; p++){ drawHeatmap(p); drawHist(p); drawFit(p); }
</script>
</body></html>
